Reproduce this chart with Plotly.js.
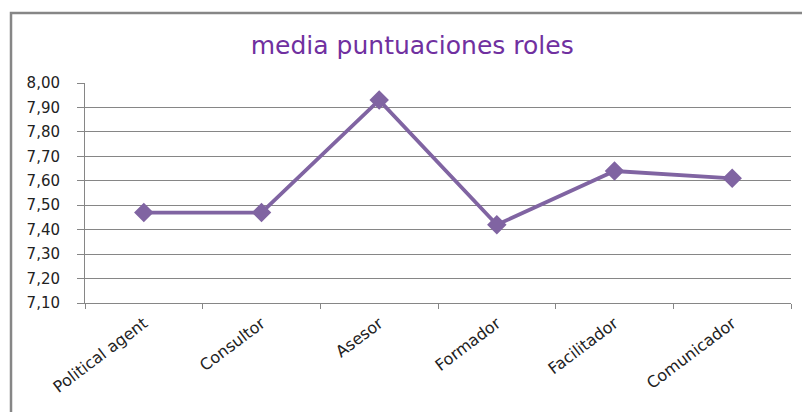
<!DOCTYPE html>
<html><head><meta charset="utf-8">
<script src="https://cdn.plot.ly/plotly-3.0.1.min.js"></script>
<style>html,body{margin:0;padding:0;background:#fff}#c{width:802px;height:412px}</style>
</head><body><div id="c"></div>
<script>
const categories = ["Political agent","Consultor","Asesor","Formador","Facilitador","Comunicador"];
const values = [7.47, 7.47, 7.93, 7.42, 7.64, 7.61];
const yTicks = [7.1,7.2,7.3,7.4,7.5,7.6,7.7,7.8,7.9,8.0];

const grid = '#868686';
const fontFam = 'DejaVu Sans, sans-serif';
const trace = {
  x: categories, y: values, type: 'scatter', mode: 'lines+markers',
  line: {color: '#8064A2', width: 3.8},
  marker: {symbol: 'diamond', size: 15, color: '#8064A2'},
  hoverinfo: 'skip'
};
const layout = {
  width: 802, height: 412,
  margin: {l: 85, r: 11, t: 83, b: 109},
  paper_bgcolor: '#fff', plot_bgcolor: '#fff',
  separators: ',.',
  showlegend: false,
  title: {text: 'media puntuaciones roles', x: 0.514, xanchor: 'center', y: 0.89, yanchor: 'middle',
          font: {family: fontFam, size: 25, color: '#7030A0'}},
  font: {family: fontFam, size: 15, color: '#222'},
  xaxis: {
    type: 'category', range: [-0.5, 5.5], tickangle: -37, tickson: 'boundaries', ticks: 'outside', ticklen: 5,
    tickcolor: grid, showline: true, linecolor: grid, linewidth: 1, showgrid: false,
    ticklabelstandoff: 4,
    tickfont: {size: 16, family: fontFam, color: '#222'}, fixedrange: true
  },
  yaxis: {
    range: [7.1, 8.0], tickvals: yTicks, tickformat: '.2f', ticks: 'outside', ticklen: 7,
    tickcolor: grid, showline: true, linecolor: grid, linewidth: 1,
    showgrid: true, gridcolor: grid, gridwidth: 1, zeroline: false,
    ticklabelstandoff: 14,
    tickfont: {size: 15, family: fontFam, color: '#222'}, fixedrange: true
  },
  shapes: [{
    type: 'path', xref: 'paper', yref: 'paper',
    path: 'M -0.1048 -0.6 L -0.1048 1.318 L 1.1 1.318',
    line: {color: '#868686', width: 2.5}
  }]
};
Plotly.newPlot('c', [trace], layout, {displayModeBar: false, staticPlot: true});
</script></body></html>
